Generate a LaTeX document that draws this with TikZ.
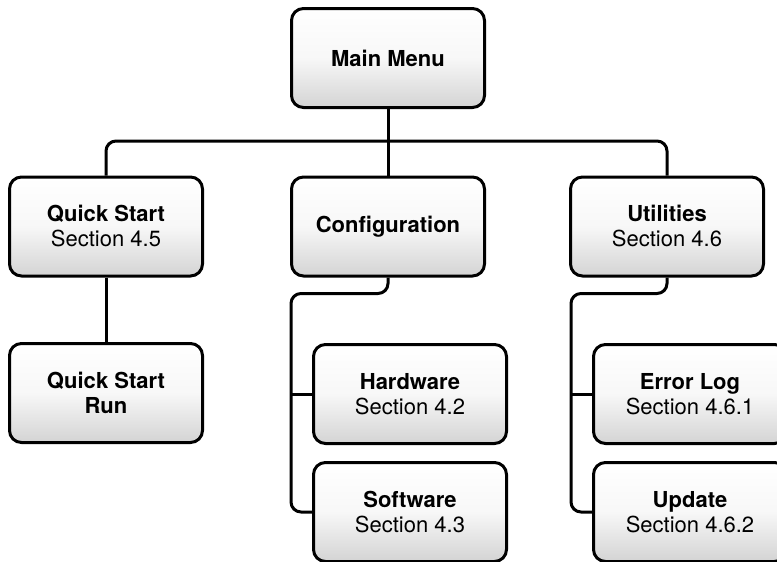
\documentclass[tikz,border=0pt]{standalone}
\usepackage{fontspec}
\setmainfont{TeX Gyre Heros}
\usetikzlibrary{calc}
\begin{document}
\begin{tikzpicture}[x=1pt,y=-1pt,line width=3pt,
	menubox/.style={draw,rounded corners=12pt,minimum width=193pt,minimum height=99pt,
		top color=white,bottom color=black!17,middle color=white!97!black,
		align=center,font=\fontsize{22}{25}\selectfont}]
	\useasboundingbox (0,0) rectangle (777,562);

	\node[menubox] (main) at (388,58) {\textbf{Main Menu}};

	\node[menubox] (qstart) at (106,226.5) {\textbf{Quick Start}\\Section 4.5};
	\node[menubox] (config) at (388,226.5) {\textbf{Configuration}};
	\node[menubox] (util) at (667,226.5) {\textbf{Utilities}\\Section 4.6};

	\node[menubox] (qrun) at (106,393) {\textbf{Quick Start}\\\textbf{Run}};

	\node[menubox] (hard) at (410,394) {\textbf{Hardware}\\Section 4.2};
	\node[menubox] (soft) at (410,512) {\textbf{Software}\\Section 4.3};

	\node[menubox] (errlog) at (690,394) {\textbf{Error Log}\\Section 4.6.1};
	\node[menubox] (update) at (690,512) {\textbf{Update}\\Section 4.6.2};

	% top level
	\coordinate (bus) at (388,141);
	\draw[rounded corners=10pt] (qstart.north) |- (bus) -| (util.north);
	\draw (main.south) -- (config.north);
	\draw (qstart.south) -- (qrun.north);

	% configuration
	\coordinate (cfbend) at ($(config.south)+(0,16)$);
	\coordinate (cftrunk) at ($(hard.west)+(-21,0)$);
	\draw[rounded corners=10pt] (config.south) -- (cfbend) -| (cftrunk) |- (soft.west);
	\draw (cftrunk) -- (hard.west);

	% utilities
	\coordinate (utbend) at ($(util.south)+(0,16)$);
	\coordinate (uttrunk) at ($(errlog.west)+(-21,0)$);
	\draw[rounded corners=10pt] (util.south) -- (utbend) -| (uttrunk) |- (update.west);
	\draw (uttrunk) -- (errlog.west);
\end{tikzpicture}
\end{document}
